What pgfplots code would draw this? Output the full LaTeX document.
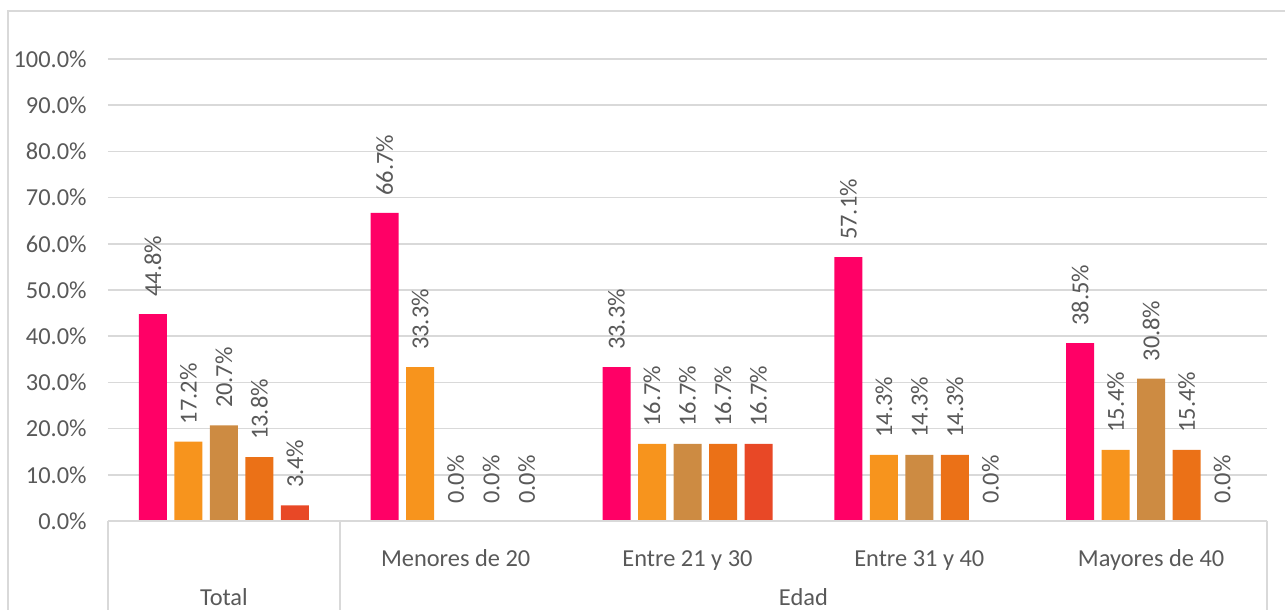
\documentclass[border=0pt]{standalone}
\usepackage{pgfplots}
\pgfplotsset{compat=1.18}
\usepackage{fontspec}
\setmainfont{Carlito}
\definecolor{cA}{HTML}{FF0066}
\definecolor{cB}{HTML}{F7941D}
\definecolor{cC}{HTML}{CD8B42}
\definecolor{cD}{HTML}{EB7117}
\definecolor{cE}{HTML}{E84826}
\definecolor{gridc}{HTML}{D9D9D9}
\definecolor{txt}{HTML}{595959}
\newcommand{\lblfont}{\fontsize{12.2pt}{14pt}\selectfont}
\begin{document}
\begin{tikzpicture}
\useasboundingbox (0,0) rectangle (642.5pt,305pt);
\draw[gridc, line width=0.6pt] (4pt,299.5pt) rectangle (700pt,-10pt);
\begin{axis}[
  at={(54pt,44.5pt)}, anchor=south west,
  scale only axis, width=579.5pt, height=231pt,
  xmin=-0.5, xmax=4.5, ymin=0, ymax=100,
  ytick={0,10,...,100},
  xtick={0,1,2,3,4},
  xticklabels={,Menores de 20,Entre 21 y 30,Entre 31 y 40,Mayores de 40},
  axis line style={draw=none},
  major tick style={draw=none},
  ymajorgrids, grid style={gridc, line width=0.75pt},
  /pgf/number format/assume math mode=true,
  yticklabel={\pgfmathprintnumber[fixed,fixed zerofill,precision=1]{\tick}\%},
  yticklabel style={font=\lblfont, text=txt, inner sep=0pt, anchor=east, xshift=-10.5pt},
  xticklabel style={font=\lblfont, text=txt, inner sep=0pt, anchor=base, yshift=-18.5pt},
  ybar=3.75pt, bar width=14pt,
  clip=false,
  nodes near coords={\pgfmathprintnumber[fixed,fixed zerofill,precision=1]{\pgfplotspointmeta}\%},
  every node near coord/.append style={font=\lblfont, text=txt, rotate=90, anchor=west, inner xsep=8.5pt, inner ysep=0pt},
]
\addplot[fill=cA, draw=none] coordinates {(0,44.8) (1,66.7) (2,33.3) (3,57.1) (4,38.5)};
\addplot[fill=cB, draw=none] coordinates {(0,17.2) (1,33.3) (2,16.7) (3,14.3) (4,15.4)};
\addplot[fill=cC, draw=none] coordinates {(0,20.7) (1,0) (2,16.7) (3,14.3) (4,30.8)};
\addplot[fill=cD, draw=none] coordinates {(0,13.8) (1,0) (2,16.7) (3,14.3) (4,15.4)};
\addplot[fill=cE, draw=none] coordinates {(0,3.4) (1,0) (2,16.7) (3,0) (4,0)};
\draw[gridc, line width=0.75pt] (axis cs:-0.5,0) -- (axis cs:4.5,0);
\draw[gridc, line width=0.75pt] (axis cs:-0.5,0) -- ++(0pt,-60pt);
\draw[gridc, line width=0.75pt] (axis cs:0.5,0) -- ++(0pt,-60pt);
\draw[gridc, line width=0.75pt] (axis cs:4.5,0) -- ++(0pt,-60pt);
\node[font=\lblfont, text=txt, inner sep=0pt, anchor=base] at ([yshift=-42.5pt]axis cs:0,0) {Total};
\node[font=\lblfont, text=txt, inner sep=0pt, anchor=base] at ([yshift=-42.5pt]axis cs:2.5,0) {Edad};
\end{axis}
\end{tikzpicture}
\end{document}
